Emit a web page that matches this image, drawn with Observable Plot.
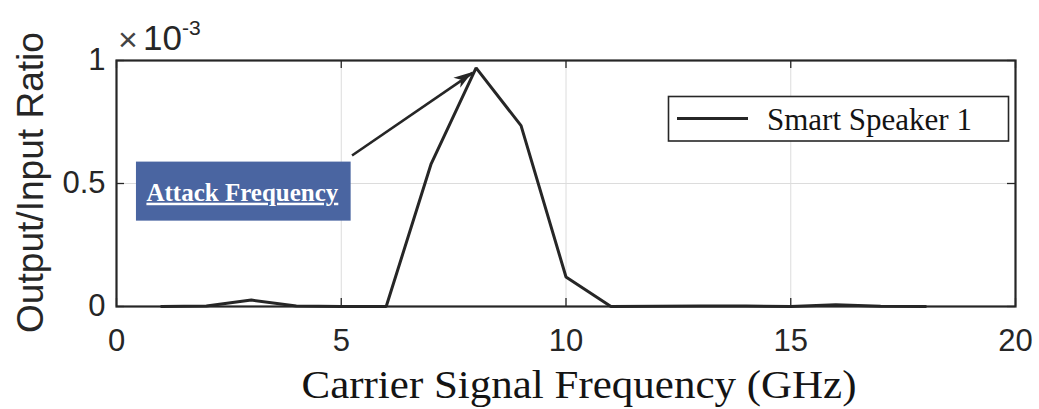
<!DOCTYPE html>
<html>
<head>
<meta charset="utf-8">
<script src="https://cdn.jsdelivr.net/npm/d3@7"></script>
<script src="https://cdn.jsdelivr.net/npm/@observablehq/plot@0.6"></script>
<style>
  html, body { margin: 0; padding: 0; background: #fff; }
  .attack text { text-decoration: underline; }
</style>
</head>
<body>
<div id="chart"></div>
<script>
// ---- data ----
const frequencies = [1, 2, 3, 4, 5, 6, 7, 8, 9, 10, 11, 12, 13, 14, 15, 16, 17, 18]; // GHz
const ratios = [0, 0.002e-3, 0.026e-3, 0.002e-3, 0, 0, 0.58e-3, 0.97e-3, 0.735e-3, 0.12e-3,
                0, 0.001e-3, 0.002e-3, 0.002e-3, 0, 0.007e-3, 0.001e-3, 0];
const xTicks = [0, 5, 10, 15, 20];
const yTicks = [0, 0.5e-3, 1e-3];
const seriesName = "Smart Speaker 1";
const xLabel = "Carrier Signal Frequency (GHz)";
const yLabel = "Output/Input Ratio";
const annotationText = "Attack Frequency";
const annotationBox = [{x1: 0.444, x2: 5.22, y1: 0.347e-3, y2: 0.587e-3}];
const annotationLabel = [{x: 2.8, y: 0.43e-3, text: annotationText}];
const annotationArrow = [{x1: 5.24, y1: 0.614e-3, x2: 7.93, y2: 0.951e-3}];

const data = frequencies.map((f, i) => ({f, v: ratios[i]}));

// ---- layout ----
const W = 1039, H = 409;
const mL = 116, mR = 24, mT = 60, mB = 103;
const fw = W - mL - mR, fh = H - mT - mB;
const ink = "#262626";
const tick = 8;

const svg = Plot.plot({
  width: W, height: H,
  marginLeft: mL, marginRight: mR, marginTop: mT, marginBottom: mB,
  style: {fontFamily: "'Liberation Sans', Arial, sans-serif", color: ink, background: "#fff", overflow: "visible"},
  x: {domain: [0, 20]},
  y: {domain: [0, 1e-3]},
  marks: [
    Plot.gridX(xTicks, {stroke: "#dcdcdc", strokeOpacity: 1, strokeWidth: 1}),
    Plot.gridY(yTicks, {stroke: "#dcdcdc", strokeOpacity: 1, strokeWidth: 1}),
    Plot.tickX(xTicks, {x: d => d, insetTop: fh - tick, stroke: ink, strokeWidth: 1.3}),
    Plot.tickX(xTicks, {x: d => d, insetBottom: fh - tick, stroke: ink, strokeWidth: 1.3}),
    Plot.tickY(yTicks, {y: d => d, insetRight: fw - tick, stroke: ink, strokeWidth: 1.3}),
    Plot.tickY(yTicks, {y: d => d, insetLeft: fw - tick, stroke: ink, strokeWidth: 1.3}),
    Plot.axisX(xTicks, {tickSize: 0, tickPadding: 22, fontSize: 31, label: null, tickFormat: d => String(d), fill: ink}),
    Plot.axisY(yTicks, {tickSize: 0, tickPadding: 11, fontSize: 31, label: null, tickFormat: d => String(+(d * 1000).toFixed(3)), fill: ink}),
    Plot.line(data, {x: "f", y: "v", stroke: ink, strokeWidth: 3, strokeLinejoin: "miter"}),
    Plot.frame({stroke: ink, strokeWidth: 2.2}),
    Plot.rect(annotationBox, {x1: "x1", x2: "x2", y1: "y1", y2: "y2", fill: "#4a65a1"}),
    Plot.text(annotationLabel, {x: "x", y: "y", text: "text", fill: "#fff", fontSize: 25, fontWeight: "bold",
      fontFamily: "'Liberation Serif', 'Times New Roman', serif", lineAnchor: "bottom", textAnchor: "middle", className: "attack"}),
    Plot.link(annotationArrow, {x1: "x1", y1: "y1", x2: "x2", y2: "y2", stroke: ink, strokeWidth: 2.6})
  ]
});

document.getElementById("chart").appendChild(svg);

// scales from the plot
const scX = svg.scale("x"), scY = svg.scale("y");
const fx = scX.apply ? scX.apply : d3.scaleLinear(scX.domain, scX.range);
const fy = scY.apply ? scY.apply : d3.scaleLinear(scY.domain, scY.range);

const s = d3.select(svg);

// arrowhead
{
  const a = annotationArrow[0];
  const tx = fx(a.x2), ty = fy(a.y2), sx0 = fx(a.x1), sy0 = fy(a.y1);
  const dx = tx - sx0, dy = ty - sy0, len = Math.hypot(dx, dy);
  const ux = dx / len, uy = dy / len, nx = -uy, ny = ux;
  const L = 19, w = 6;
  const pts = [
    [tx, ty],
    [tx - L * ux + w * nx, ty - L * uy + w * ny],
    [tx - 0.72 * L * ux, ty - 0.72 * L * uy],
    [tx - L * ux - w * nx, ty - L * uy - w * ny]
  ];
  s.append("polygon").attr("points", pts.map(p => p.join(",")).join(" ")).attr("fill", ink);
}

// y label
s.append("text")
  .attr("transform", "translate(43,182.5) rotate(-90)")
  .attr("text-anchor", "middle")
  .attr("font-family", "'Liberation Sans', Arial, sans-serif")
  .attr("font-size", 37)
  .attr("fill", ink)
  .attr("textLength", 301).attr("lengthAdjust", "spacingAndGlyphs")
  .text(yLabel);

// x label
s.append("text")
  .attr("x", 579).attr("y", 398)
  .attr("text-anchor", "middle")
  .attr("font-family", "'Liberation Serif', 'Times New Roman', serif")
  .attr("font-size", 40)
  .attr("fill", "#141414")
  .attr("textLength", 555).attr("lengthAdjust", "spacingAndGlyphs")
  .text(xLabel);

// exponent label
{
  const g = s.append("g").attr("font-family", "'Liberation Sans', Arial, sans-serif").attr("fill", ink).attr("text-anchor", "start");
  g.append("text").attr("x", 118).attr("y", 51).attr("font-size", 34).attr("fill", "#444").text("\u00d7");
  g.append("text").attr("x", 143).attr("y", 50).attr("font-size", 35).text("10");
  g.append("text").attr("x", 182).attr("y", 35).attr("font-size", 21).text("-3");
}

// legend
{
  const g = s.append("g").attr("text-anchor", "start");
  g.append("rect").attr("x", 668.5).attr("y", 96.5).attr("width", 340).attr("height", 44.5)
    .attr("fill", "#fff").attr("stroke", ink).attr("stroke-width", 1.6);
  g.append("line").attr("x1", 677).attr("x2", 748).attr("y1", 118.5).attr("y2", 118.5)
    .attr("stroke", ink).attr("stroke-width", 2.8);
  g.append("text").attr("x", 767).attr("y", 130)
    .attr("font-family", "'Liberation Serif', 'Times New Roman', serif")
    .attr("font-size", 31).attr("fill", "#141414").text(seriesName);
}
</script>
</body>
</html>
